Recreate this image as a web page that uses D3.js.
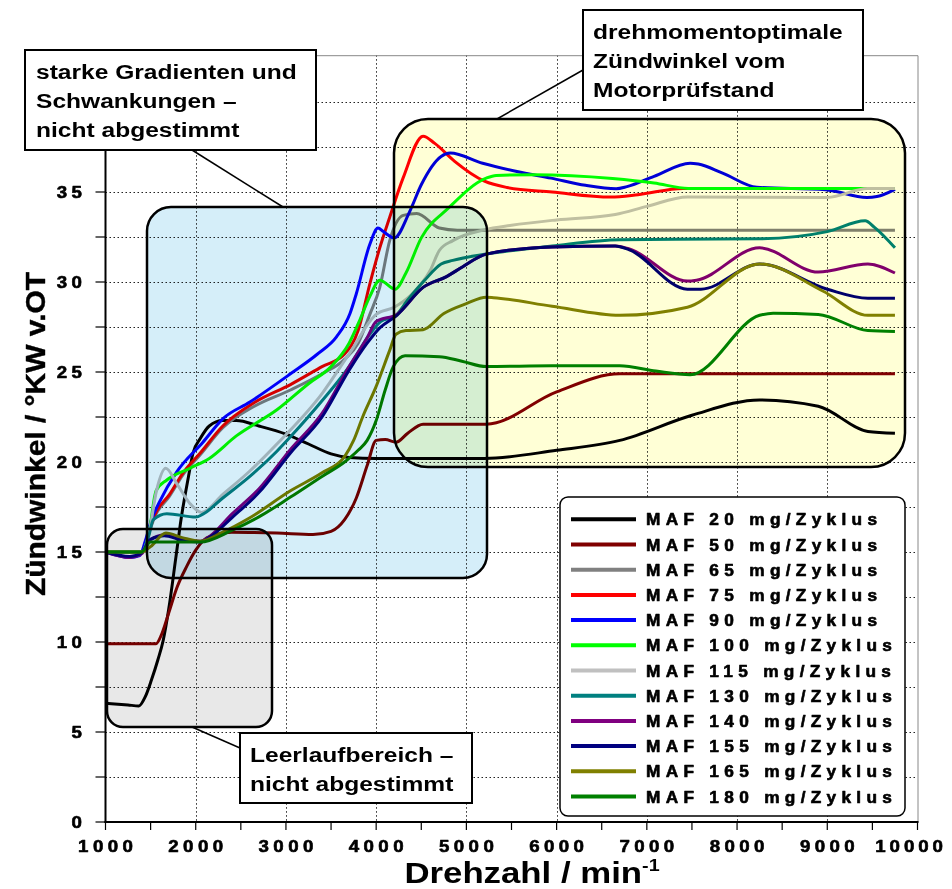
<!DOCTYPE html>
<html>
<head>
<meta charset="utf-8">
<script src="https://cdn.jsdelivr.net/npm/d3@7"></script>
<style>
  body { margin: 0; background: #fff; }
  svg { display: block; font-family: "Liberation Sans", Arial, sans-serif; font-weight: bold; }
</style>
</head>
<body>
<svg id="chart" width="952" height="889"></svg>
<script>
// ---- data: ignition angle (°KW v.OT) over engine speed (1/min), one list per air mass ----
const maf20  = [[1000,6.6],[1250,6.5],[1370,6.45],[1440,6.95],[1510,7.9],[1580,9.0],[1640,10.1],[1700,11.8],[1780,14.7],[1840,16.9],[1920,19.2],[1970,20.5],[2050,21.3],[2150,22.0],[2300,22.3],[2450,22.3],[2700,22.0],[3000,21.55],[3250,21.0],[3500,20.45],[3700,20.25],[4000,20.2],[5200,20.2],[6000,20.65],[6700,21.2],[7500,22.6],[8250,23.45],[8900,23.1],[9450,21.7],[9750,21.6]];
const maf50  = [[1000,9.9],[1560,9.9],[1620,10.4],[1700,11.6],[1790,13.0],[1900,14.2],[2000,15.1],[2100,15.7],[2250,16.0],[2400,16.1],[2900,16.05],[3300,15.97],[3500,16.15],[3650,16.8],[3780,18.0],[3900,19.8],[4000,21.2],[4100,21.25],[4220,21.1],[4350,21.6],[4520,22.1],[5220,22.1],[6000,23.9],[6700,24.9],[9750,24.9]];
const maf65  = [[1000,15],[1400,15],[1470,15.9],[1550,17.0],[1710,18.1],[1860,19.3],[2050,20.4],[2300,21.9],[2650,23.1],[3050,24.0],[3400,24.9],[3650,25.7],[3800,26.6],[3930,28.2],[4040,29.7],[4150,32.3],[4300,33.7],[4450,33.8],[4700,33.0],[4900,32.88],[9750,32.88]];
const maf75  = [[1000,15],[1400,15],[1470,16.0],[1550,17.1],[1710,18.2],[1860,19.4],[2050,20.5],[2300,22.0],[2650,23.3],[3050,24.3],[3400,25.3],[3650,26.0],[3800,27.3],[3930,29.9],[4040,31.9],[4150,33.6],[4300,35.8],[4520,38.1],[4650,37.7],[4870,36.7],[5200,35.6],[5450,35.25],[5950,35.0],[6600,34.72],[6900,34.85],[7400,35.2],[9750,35.2]];
const maf90  = [[1000,15],[1270,14.7],[1380,14.8],[1440,15.6],[1510,16.8],[1600,17.8],[1790,19.45],[2080,21.1],[2300,22.4],[2600,23.33],[3050,24.9],[3350,26.0],[3560,26.95],[3710,28.25],[3780,29.35],[3930,32.1],[4020,33.0],[4080,32.8],[4200,32.45],[4370,33.9],[4500,35.4],[4720,36.97],[4820,37.16],[5180,36.6],[5560,36.14],[5940,35.77],[6320,35.37],[6660,35.18],[6780,35.3],[7080,35.87],[7480,36.6],[7570,36.55],[7840,36.05],[8220,35.26],[8980,35.13],[9440,34.7],[9550,34.75],[9750,35.15]];
const maf100 = [[1000,15],[1400,15],[1480,16.0],[1560,18.4],[1680,19.0],[1935,19.65],[2150,20.2],[2450,21.45],[2900,22.9],[3250,24.35],[3500,25.3],[3700,26.6],[3820,27.9],[3930,29.2],[4040,30.1],[4210,29.6],[4330,30.5],[4500,32.45],[4800,34.1],[5220,35.77],[5330,35.92],[5750,35.96],[6620,35.75],[7080,35.5],[7460,35.2],[9750,35.2]];
const maf115 = [[1000,15],[1400,15],[1480,16.0],[1565,18.4],[1668,19.65],[1790,18.8],[1935,17.7],[2065,17.2],[2300,18.2],[2600,19.5],[2900,21.0],[3400,23.8],[3700,26.0],[4000,28.2],[4200,28.6],[4400,29.35],[4600,30.65],[4700,31.75],[4850,32.3],[5200,32.9],[5500,33.15],[6000,33.45],[6650,33.75],[7000,34.2],[7450,34.72],[9000,34.7],[9450,35.2],[9750,35.2]];
const maf130 = [[1000,15],[1400,15],[1480,15.9],[1530,16.8],[1680,17.13],[2000,16.94],[2080,17.1],[2300,18.0],[2600,19.2],[2900,20.6],[3050,21.4],[3400,23.4],[3700,25.3],[3930,27.1],[4050,27.8],[4210,28.1],[4350,29.0],[4530,30.05],[4720,31.0],[4850,31.2],[5220,31.55],[5950,32.0],[6700,32.35],[8250,32.4],[9000,32.8],[9420,33.4],[9520,33.05],[9750,31.9]];
const maf140 = [[1000,15],[1270,14.7],[1400,14.9],[1500,15.7],[1650,15.95],[1850,15.7],[2050,15.6],[2150,15.85],[2400,17.1],[2700,18.5],[3050,20.7],[3400,22.7],[3700,25.3],[3900,26.9],[4000,27.8],[4230,28.2],[4520,29.7],[4780,30.3],[4960,30.85],[5220,31.55],[5950,31.95],[6650,32.0],[6800,31.85],[7450,30.05],[7550,30.1],[8250,31.9],[8900,30.55],[9450,31.0],[9750,30.5]];
const maf155 = [[1000,15],[1270,14.75],[1400,14.95],[1500,15.7],[1650,15.9],[1850,15.65],[2050,15.55],[2150,15.8],[2400,16.9],[2700,18.3],[3050,20.5],[3400,22.5],[3700,25.1],[3900,26.6],[4040,27.45],[4230,28.15],[4520,29.7],[4780,30.3],[4960,30.85],[5220,31.55],[5950,31.95],[6650,32.0],[6800,31.8],[7450,29.6],[7600,29.6],[8250,31.0],[9000,29.6],[9450,29.1],[9750,29.1]];
const maf165 = [[1000,15],[1400,15],[1500,15.3],[1670,16.05],[1850,15.8],[2050,15.6],[2300,16.1],[2600,16.9],[3050,18.4],[3400,19.4],[3650,20.3],[3750,21.2],[3850,22.5],[4000,24.2],[4150,26.2],[4220,27.1],[4330,27.3],[4520,27.35],[4750,28.25],[5000,28.8],[5220,29.15],[5300,29.13],[5950,28.65],[6700,28.15],[7450,28.6],[8250,31.0],[8950,29.5],[9450,28.15],[9750,28.15]];
const maf180 = [[1000,15],[1400,15],[1500,15.55],[2050,15.55],[2400,16.2],[2700,16.95],[3050,18.05],[3400,19.2],[3650,20.0],[3800,20.65],[3900,21.2],[4000,22.3],[4100,24.0],[4190,25.3],[4320,25.9],[4700,25.85],[4950,25.6],[5220,25.3],[5950,25.35],[6700,25.35],[7100,25.05],[7480,24.85],[8250,28.15],[8400,28.27],[8900,28.2],[9450,27.3],[9750,27.25]];

const seriesValues = [maf20, maf50, maf65, maf75, maf90, maf100, maf115, maf130, maf140, maf155, maf165, maf180];
const seriesNames  = ["MAF 20 mg/Zyklus","MAF 50 mg/Zyklus","MAF 65 mg/Zyklus","MAF 75 mg/Zyklus","MAF 90 mg/Zyklus","MAF 100 mg/Zyklus","MAF 115 mg/Zyklus","MAF 130 mg/Zyklus","MAF 140 mg/Zyklus","MAF 155 mg/Zyklus","MAF 165 mg/Zyklus","MAF 180 mg/Zyklus"];
const seriesColors = ["#000000","#800000","#808080","#ff0000","#0000ff","#00ff00","#c0c0c0","#008080","#800080","#000080","#808000","#008000"];

const xTickLabels = [1000,2000,3000,4000,5000,6000,7000,8000,9000,10000];
const xMinorTicks = d3.range(1000, 10001, 500);
const xGrid       = [2000,3000,4000,5000,6000,7000,8000,9000];
const yTickLabels = [0,5,10,15,20,25,30,35];
const yMinorTicks = d3.range(0, 40.01, 2.5);
const yGrid       = d3.range(2.5, 40.01, 2.5);

// ---- layout ----
const svg = d3.select("#chart");
const x = d3.scaleLinear().domain([1000, 10000]).range([105.5, 917.5]);
const y = d3.scaleLinear().domain([0, 42.6]).range([822, 55.2]);
const plotL = x(1000), plotR = x(10000), plotT = y(42.6), plotB = y(0);

// stretched bold text helper (optional outline for a heavier face)
function label(parent, px, py, str, opt) {
  const o = Object.assign({size: 15, sx: 1.1, anchor: "start", ls: 0, rot: 0, heavy: 0}, opt);
  let shift = 0;
  if (o.ls) {
    if (o.anchor === "middle") shift = o.ls * o.sx / 2;
    if (o.anchor === "end") shift = o.ls * o.sx;
  }
  const t = parent.append("text")
    .attr("transform", `translate(${px + shift},${py}) rotate(${o.rot}) scale(${o.sx},1)`)
    .attr("font-size", o.size)
    .attr("text-anchor", o.anchor)
    .attr("fill", "#000")
    .text(str);
  if (o.ls) t.attr("letter-spacing", o.ls);
  if (o.heavy) t.attr("stroke", "#000").attr("stroke-width", o.heavy).attr("stroke-linejoin", "round");
  return t;
}

// ---- grid ----
const grid = svg.append("g").attr("stroke", "#222").attr("stroke-width", 1).attr("stroke-dasharray", "1.5,2.5");
grid.selectAll(".h").data(yGrid).join("line")
  .attr("x1", plotL).attr("x2", plotR).attr("y1", d => Math.round(y(d)) + 0.5).attr("y2", d => Math.round(y(d)) + 0.5);
grid.selectAll(".v").data(xGrid).join("line")
  .attr("y1", plotT).attr("y2", plotB).attr("x1", d => Math.round(x(d)) + 0.5).attr("x2", d => Math.round(x(d)) + 0.5);

// frame top / right
svg.append("path").attr("d", `M${plotL},${plotT + 0.5}H${plotR + 0.5}V${plotB}`)
  .attr("fill", "none").attr("stroke", "#888").attr("stroke-width", 1);

// ---- curves ----
const line = d3.line().x(d => x(d[0])).y(d => y(d[1])).curve(d3.curveMonotoneX);
svg.append("g").selectAll("path").data(seriesValues).join("path")
  .attr("d", line)
  .attr("fill", "none")
  .attr("stroke", (d, i) => seriesColors[i])
  .attr("stroke-width", 3)
  .attr("stroke-linejoin", "round");

// ---- highlighted regions (multiplied over the curves) ----
const regions = [
  {x0: 107, y0: 529, x1: 272, y1: 727, r: 16, fill: "#e8e8e8"},
  {x0: 147, y0: 207, x1: 487, y1: 578, r: 24, fill: "#d5eef9"},
  {x0: 394, y0: 119, x1: 905, y1: 467, r: 34, fill: "#ffffd6"}
];
svg.append("g").selectAll("rect").data(regions).join("rect")
  .attr("x", d => d.x0).attr("y", d => d.y0)
  .attr("width", d => d.x1 - d.x0).attr("height", d => d.y1 - d.y0)
  .attr("rx", d => d.r).attr("ry", d => d.r)
  .attr("fill", d => d.fill)
  .attr("stroke", "#000").attr("stroke-width", 2.5)
  .style("mix-blend-mode", "multiply");

// ---- axes ----
const ax = svg.append("g").attr("stroke", "#000");
ax.append("line").attr("x1", plotL).attr("x2", plotL).attr("y1", plotT).attr("y2", plotB + 1).attr("stroke-width", 2);
ax.append("line").attr("x1", plotL - 1).attr("x2", plotR + 1).attr("y1", plotB).attr("y2", plotB).attr("stroke-width", 2);
ax.selectAll(".xt").data(xMinorTicks).join("line")
  .attr("x1", d => x(d)).attr("x2", d => x(d)).attr("y1", plotB).attr("y2", plotB + 8).attr("stroke-width", 1.2);
ax.selectAll(".yt").data(yMinorTicks).join("line")
  .attr("x1", plotL - 10).attr("x2", plotL).attr("y1", d => y(d)).attr("y2", d => y(d)).attr("stroke-width", 1.2);

const tl = svg.append("g");
xTickLabels.forEach(v => {
  if (v === 10000) label(tl, 943, 852, String(v), {size: 17, sx: 1.1, anchor: "end", ls: 3.6, heavy: 0.6});
  else label(tl, x(v), 852, String(v), {size: 17, sx: 1.1, anchor: "middle", ls: 4, heavy: 0.6});
});
yTickLabels.forEach(v => label(tl, 82, y(v) + 6, String(v), {size: 17, sx: 1.1, anchor: "end", ls: 4, heavy: 0.6}));

// axis titles
const xt = label(svg, 532, 883, "Drehzahl / min", {size: 30, sx: 1.16, anchor: "middle"});
xt.append("tspan").attr("font-size", 17).attr("dy", -12).text("-1");
label(svg, 45, 434, "Zündwinkel / °KW v.OT", {size: 28, sx: 1.07, anchor: "middle", rot: -90, heavy: 0.4});

// ---- legend ----
const lg = svg.append("g");
lg.append("rect").attr("x", 560).attr("y", 497).attr("width", 345).attr("height", 319)
  .attr("rx", 8).attr("fill", "#fff").attr("stroke", "#000").attr("stroke-width", 1.5);
seriesNames.forEach((name, i) => {
  const ry = 519.3 + i * 25.2;
  lg.append("line").attr("x1", 571).attr("x2", 636).attr("y1", ry).attr("y2", ry)
    .attr("stroke", seriesColors[i]).attr("stroke-width", 4);
  label(lg, 646, ry + 6, name, {size: 16, sx: 1.08, ls: 4.9, heavy: 0.6});
});

// ---- callouts ----
const callouts = [
  {x0: 25, y0: 50, x1: 316, y1: 150, lines: ["starke Gradienten und", "Schwankungen –", "nicht abgestimmt"], tx: 36, ty: 79, link: [[192, 150], [283, 207]]},
  {x0: 583, y0: 10, x1: 863, y1: 110, lines: ["drehmomentoptimale", "Zündwinkel vom", "Motorprüfstand"], tx: 593, ty: 39, link: [[497, 119], [583, 70]]},
  {x0: 240, y0: 733, x1: 472, y1: 803, lines: ["Leerlaufbereich –", "nicht abgestimmt"], tx: 250, ty: 762, link: [[192, 727], [240, 748]]}
];
const cg = svg.append("g");
callouts.forEach(c => {
  cg.append("line").attr("x1", c.link[0][0]).attr("y1", c.link[0][1]).attr("x2", c.link[1][0]).attr("y2", c.link[1][1])
    .attr("stroke", "#000").attr("stroke-width", 1.5);
  cg.append("rect").attr("x", c.x0).attr("y", c.y0).attr("width", c.x1 - c.x0).attr("height", c.y1 - c.y0)
    .attr("fill", "#fff").attr("stroke", "#000").attr("stroke-width", 2);
  c.lines.forEach((s, k) => label(cg, c.tx, c.ty + k * 28.8, s, {size: 21, sx: 1.17}));
});
</script>
</body>
</html>
